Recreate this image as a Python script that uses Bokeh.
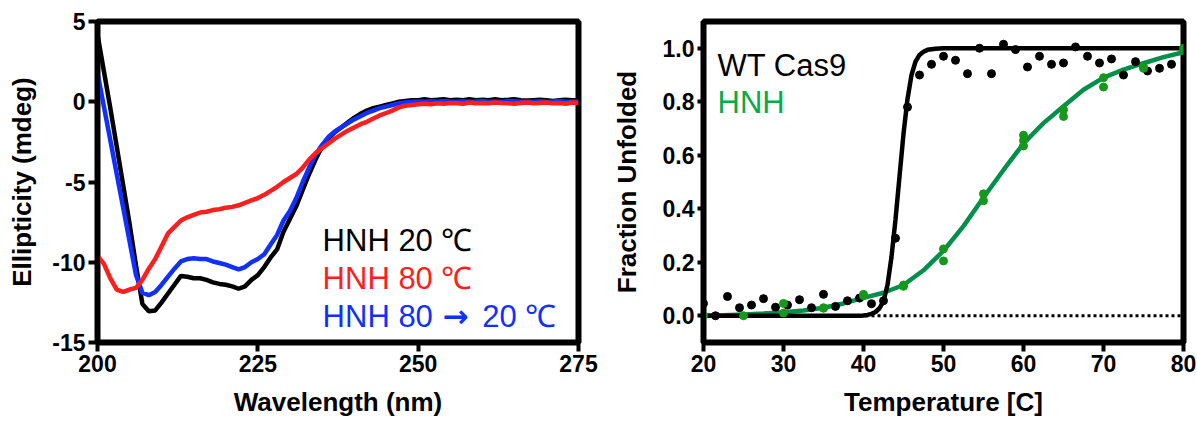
from bokeh.plotting import figure
from bokeh.layouts import row
from bokeh.models import FixedTicker, Range1d, Label, PrintfTickFormatter
from bokeh.embed import file_html
from bokeh.resources import INLINE

# ---- CD spectra (ellipticity, mdeg) at 1 nm steps, 200-275 nm ----
wavelength = list(range(200, 276))
hnh_20c = [4.2, 1.9, -0.4, -2.8, -5.2, -7.6, -10.2, -12.6, -13.05, -13.0,
           -12.5, -11.95, -11.4, -10.85, -10.9, -11.0, -11.0, -11.1, -11.25, -11.35,
           -11.4, -11.5, -11.65, -11.5, -11.1, -10.8, -10.3, -9.7, -9.2, -8.1,
           -7.3, -6.5, -5.5, -4.5, -3.6, -2.8, -2.3, -1.9, -1.6, -1.3,
           -1.0, -0.75, -0.55, -0.4, -0.3, -0.2, -0.1, 0.0, 0.05, 0.1,
           0.1, 0.15, 0.1, 0.12, 0.15, 0.1, 0.12, 0.1, 0.15, 0.1,
           0.12, 0.1, 0.15, 0.1, 0.12, 0.15, 0.1, 0.08, 0.1, 0.12,
           0.1, 0.05, 0.1, 0.12, 0.1, 0.1]
hnh_80c = [-9.6, -10.1, -11.0, -11.7, -11.85, -11.7, -11.6, -11.1, -10.4, -9.8,
           -9.0, -8.2, -7.8, -7.4, -7.2, -7.05, -6.9, -6.85, -6.75, -6.7,
           -6.6, -6.55, -6.45, -6.3, -6.15, -6.0, -5.8, -5.55, -5.3, -5.0,
           -4.75, -4.5, -4.1, -3.6, -3.2, -2.9, -2.6, -2.3, -2.05, -1.8,
           -1.6, -1.4, -1.25, -1.05, -0.85, -0.7, -0.55, -0.35, -0.25, -0.2,
           -0.15, -0.12, -0.15, -0.1, -0.12, -0.08, -0.1, -0.12, -0.05, -0.1,
           -0.08, -0.1, -0.05, -0.08, -0.1, -0.12, -0.08, -0.05, -0.1, -0.08,
           -0.05, -0.1, -0.08, -0.12, -0.05, -0.08]
hnh_80_to_20c = [1.8, -0.3, -2.4, -4.5, -6.6, -8.7, -10.8, -11.9, -12.05, -11.85,
                 -11.4, -10.9, -10.4, -9.95, -9.8, -9.75, -9.8, -9.8, -9.95, -10.05,
                 -10.15, -10.3, -10.45, -10.3, -10.0, -9.8, -9.5, -8.9, -8.3, -7.4,
                 -6.8, -6.0, -5.0, -4.1, -3.3, -2.7, -2.2, -1.85, -1.6, -1.35,
                 -1.1, -0.9, -0.7, -0.55, -0.4, -0.3, -0.2, -0.1, -0.05, 0.0,
                 0.02, 0.0, 0.03, 0.0, 0.05, 0.02, 0.0, 0.03, 0.0, 0.02,
                 0.05, 0.0, 0.02, 0.0, 0.03, 0.05, 0.0, 0.02, 0.0, 0.03,
                 0.0, 0.02, 0.05, 0.0, 0.02, 0.0]

cd_xticks = [200, 225, 250, 275]
cd_yticks = [-15, -10, -5, 0, 5]

# ---- Thermal melt: fraction unfolded vs temperature ----
wt_temp = [20, 21.5, 23, 24.5, 26, 27.5, 29, 30.5, 32, 33.5,
           35, 36.5, 38, 39.5, 41, 42.5, 44, 45.5, 47, 48.5,
           50, 51.5, 53, 54.5, 56, 57.5, 59, 60.5, 62, 63.5,
           65, 66.5, 68, 69.5, 71, 72.5, 74, 75.5, 77, 78.5]
wt_frac = [0.046, 0.0, 0.072, 0.03, 0.04, 0.064, 0.032, 0.04, 0.06, 0.03,
           0.08, 0.035, 0.056, 0.066, 0.045, 0.056, 0.29, 0.78, 0.90, 0.94,
           0.97, 0.955, 0.905, 1.0, 0.905, 1.015, 0.995, 0.93, 0.97, 0.94,
           0.945, 1.005, 0.97, 0.945, 0.96, 0.90, 0.95, 0.915, 0.925, 0.94]

hnh_temp = [20, 25, 30, 30, 35, 35, 40, 40, 45, 45, 50, 50,
            55, 55, 60, 60, 60, 65, 65, 70, 70, 75, 75, 80]
hnh_frac = [0.0, 0.0, 0.046, 0.01, 0.03, 0.028, 0.08, 0.075, 0.11, 0.115, 0.25, 0.205,
            0.456, 0.43, 0.675, 0.655, 0.635, 0.77, 0.745, 0.89, 0.855, 0.93, 0.925, 1.0]

# fitted melting curves
wt_fit_temp = [20, 30, 38, 39.5, 40, 40.5, 41, 41.5, 42, 42.5, 43, 43.5, 44, 44.5,
               45, 45.5, 46, 46.5, 47, 47.5, 48, 49, 50, 60, 70, 80]
wt_fit_frac = [0.0, 0.0, 0.0, 0.0, 0.001, 0.003, 0.007, 0.014, 0.028, 0.055, 0.115, 0.22,
               0.36, 0.52, 0.68, 0.81, 0.90, 0.95, 0.975, 0.987, 0.994, 0.998, 1.0,
               1.0, 1.0, 1.0]
hnh_fit_temp = [20, 22.5, 25, 27.5, 30, 32.5, 35, 37.5, 40, 42.5, 45, 47.5, 50, 52.5,
                55, 57.5, 60, 62.5, 65, 67.5, 70, 72.5, 75, 77.5, 80]
hnh_fit_frac = [0.0, 0.002, 0.005, 0.008, 0.013, 0.02, 0.03, 0.046, 0.067, 0.086,
                0.115, 0.17, 0.243, 0.335, 0.442, 0.545, 0.644, 0.72, 0.783, 0.845,
                0.89, 0.92, 0.944, 0.967, 0.985]

melt_xticks = [20, 30, 40, 50, 60, 70, 80]
melt_yticks = [0.0, 0.2, 0.4, 0.6, 0.8, 1.0]

FONT = "Liberation Sans"
RED = "#FF1E1E"
BLUE = "#1030FF"
GREEN_LINE = "#00904A"
GREEN_DOT = "#16981A"
GREEN_TEXT = "#0AAA48"


def style(p):
    p.grid.visible = False
    p.background_fill_color = "white"
    p.border_fill_color = "white"
    p.outline_line_color = "black"
    p.outline_line_width = 6
    p.outline_line_alpha = 1.0
    for ax in p.axis:
        ax.axis_line_width = 5
        ax.axis_line_color = "black"
        ax.major_tick_line_width = 4
        ax.major_tick_line_color = "black"
        ax.major_tick_out = 9
        ax.major_tick_in = 0
        ax.minor_tick_line_color = None
        ax.major_label_text_font = FONT
        ax.major_label_text_font_style = "bold"
        ax.major_label_text_font_size = "23px"
        ax.major_label_text_color = "black"
        ax.major_label_standoff = 3
        ax.axis_label_text_font = FONT
        ax.axis_label_text_font_style = "bold"
        ax.axis_label_text_font_size = "26px"
        ax.axis_label_text_color = "black"


def legend_text(p, x, y, txt, col, font=FONT, style="normal"):
    p.add_layout(Label(x=x, y=y, text=txt, text_color=col,
                       text_font=font, text_font_size="31px",
                       text_font_style=style,
                       text_baseline="alphabetic", text_align="left"))


# ---- left panel: CD spectra ----
p1 = figure(frame_width=481, frame_height=321,
            x_range=Range1d(200, 275), y_range=Range1d(-15, 5),
            output_backend="svg", toolbar_location=None,
            min_border_left=97, min_border_right=22,
            min_border_top=21, min_border_bottom=80)
style(p1)
p1.xaxis.ticker = FixedTicker(ticks=cd_xticks)
p1.yaxis.ticker = FixedTicker(ticks=cd_yticks)
p1.yaxis.major_label_overrides = {t: str(t) for t in cd_yticks}
p1.xaxis.axis_label = "Wavelength (nm)"
p1.yaxis.axis_label = "Ellipticity (mdeg)"
p1.xaxis.axis_label_standoff = 12
p1.yaxis.axis_label_standoff = 12

p1.line(wavelength, hnh_20c, line_color="black", line_width=4.5)
p1.line(wavelength, hnh_80_to_20c, line_color=BLUE, line_width=4.5)
p1.line(wavelength, hnh_80c, line_color=RED, line_width=4.5)

legend_text(p1, 235.1, -8.64, "HNH 20 \u2103", "black")
legend_text(p1, 235.1, -11.0, "HNH 80 \u2103", RED)
legend_text(p1, 235.1, -13.37, "HNH 80", BLUE)
legend_text(p1, 253.8, -13.37, "\u2192", BLUE, font="DejaVu Sans", style="bold")
legend_text(p1, 260.0, -13.37, "20 \u2103", BLUE)

# ---- right panel: thermal melt ----
p2 = figure(frame_width=480, frame_height=321,
            x_range=Range1d(20, 80), y_range=Range1d(-0.1, 1.1),
            output_backend="svg", toolbar_location=None,
            min_border_left=103, min_border_right=14,
            min_border_top=21, min_border_bottom=80)
style(p2)
p2.xaxis.ticker = FixedTicker(ticks=melt_xticks)
p2.yaxis.ticker = FixedTicker(ticks=melt_yticks)
p2.yaxis.formatter = PrintfTickFormatter(format="%.1f")
p2.yaxis.major_tick_out = 6
p2.xaxis.axis_label = "Temperature [C]"
p2.yaxis.axis_label = "Fraction Unfolded"
p2.xaxis.axis_label_standoff = 12
p2.yaxis.axis_label_standoff = 18

p2.line([melt_xticks[0], melt_xticks[-1]], [0.0, 0.0], line_color="black",
        line_width=3, line_dash="3 3")
p2.line(hnh_fit_temp, hnh_fit_frac, line_color=GREEN_LINE, line_width=4.5)
p2.line(wt_fit_temp, wt_fit_frac, line_color="black", line_width=4.5)
p2.scatter(wt_temp, wt_frac, size=8, fill_color="black", line_color="black")
p2.scatter(hnh_temp, hnh_frac, size=8, fill_color=GREEN_DOT, line_color=GREEN_DOT)

legend_text(p2, 21.75, 0.936, "WT Cas9", "black")
legend_text(p2, 21.75, 0.798, "HNH", GREEN_TEXT)

layout = row(p1, p2)
open("out.html", "w").write(file_html(layout, INLINE))
